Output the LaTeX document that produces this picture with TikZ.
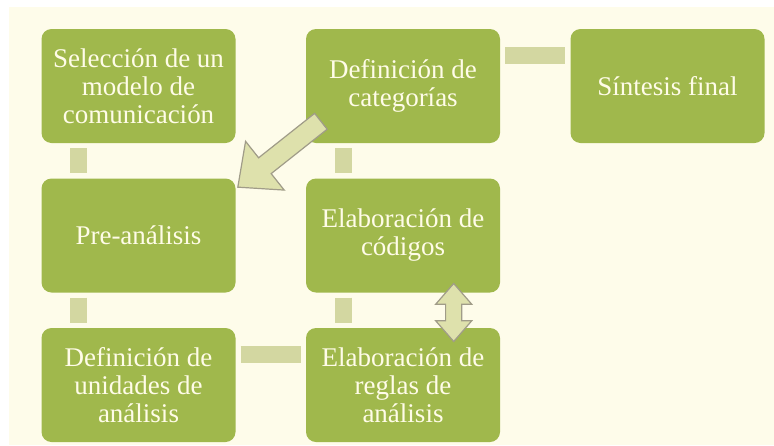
\documentclass[tikz,border=0pt]{standalone}
\usepackage{fontspec}
\setmainfont{Liberation Serif}
\usepackage{xcolor}
\usepackage{tikz}
\usetikzlibrary{shapes.arrows, calc}
\definecolor{stepgreen}{RGB}{160,184,76}
\definecolor{linkgreen}{RGB}{211,215,161}
\definecolor{arrowfill}{RGB}{222,225,172}
\definecolor{arrowline}{RGB}{160,156,136}
\definecolor{paper}{RGB}{254,252,234}
\definecolor{lettering}{RGB}{255,252,232}
\tikzstyle{phase} = [rectangle, rounded corners=10pt, minimum width=194pt, minimum height=114pt, align=center, fill=stepgreen, text=lettering, font=\fontsize{27}{28}\selectfont]
\tikzstyle{link} = [draw=linkgreen, line width=17pt]
\tikzstyle{bigarrow} = [single arrow, rotate=218.4, minimum height=106pt, minimum width=60pt, inner sep=9.5pt, single arrow tip angle=84, single arrow head extend=21pt, fill=arrowfill, draw=arrowline, line width=1.2pt]
\tikzstyle{twoway} = [double arrow, rotate=90, minimum height=58pt, minimum width=34pt, inner sep=7.5pt, double arrow tip angle=82, double arrow head extend=10pt, fill=arrowfill, draw=arrowline, line width=1.2pt]

\begin{document}
\begin{tikzpicture}[node distance=149.5pt]
        % Page
        \useasboundingbox (0,0) rectangle (774pt,-445pt);
        \fill [paper] (9pt,-7pt) rectangle (774pt,-445pt);

        % Left column
        \node (seleccion) [phase] at (138.5pt,-86pt) {Selección de un\\modelo de\\comunicación};
        \node (pre) [phase, below of=seleccion] {Pre-análisis};
        \node (unidades) [phase, below of=pre] {Definición de\\unidades de\\análisis};

        % Middle column
        \node (categorias) [phase, right of=seleccion, xshift=115pt] {Definición de\\categorías};
        \node (codigos) [phase, below of=categorias] {Elaboración de\\códigos};
        \node (reglas) [phase, below of=codigos] {Elaboración de\\reglas de\\análisis};

        % Right column
        \node (sintesis) [phase, right of=categorias, xshift=115pt] {Síntesis final};

        % Links
        \draw [link] ([xshift=37.5pt, yshift=-5pt]seleccion.south west) -- ([xshift=37.5pt, yshift=5pt]pre.north west);
        \draw [link] ([xshift=37.5pt, yshift=-5pt]pre.south west) -- ([xshift=37.5pt, yshift=5pt]unidades.north west);
        \draw [link] ([xshift=37.5pt, yshift=-5pt]categorias.south west) -- ([xshift=37.5pt, yshift=5pt]codigos.north west);
        \draw [link] ([xshift=37.5pt, yshift=-5pt]codigos.south west) -- ([xshift=37.5pt, yshift=5pt]reglas.north west);
        \draw [link] ([xshift=5pt, yshift=-26.5pt]categorias.north east) -- ([xshift=-5pt, yshift=-26.5pt]sintesis.north west);
        \draw [link] ([xshift=5pt, yshift=-26.5pt]unidades.north east) -- ([xshift=-5pt, yshift=-26.5pt]reglas.north west);

        % Arrows
        \node (back) [bigarrow] at ($(pre.north east)!0.5!(categorias.south west)+(13pt,10pt)$) {};
        \node (loop) [twoway] at ($(codigos.south east)!0.5!(reglas.north east)+(-46.5pt,-2.25pt)$) {};
    \end{tikzpicture}
\end{document}
